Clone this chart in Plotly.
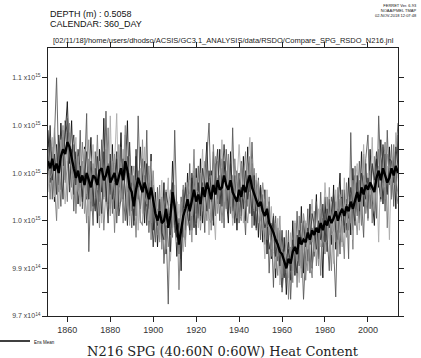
import plotly.graph_objects as go

# Years (annual values)
years = list(range(1851, 2015))

# Values in units of 1e13 J
ens_mean = [
    103.5, 103.2, 103.6, 103.1, 103.4, 103.0, 103.7, 104.0, 103.8, 104.3,
    104.1, 103.6, 103.2, 102.8, 103.1, 102.6, 102.9, 102.5, 103.0, 102.7,
    102.4, 102.9, 102.8, 102.5, 103.1, 103.2, 102.7, 102.9, 103.3, 102.6,
    102.8, 103.0, 102.5, 102.9, 103.2, 102.7, 103.5, 103.1, 102.4, 102.2,
    101.6, 102.3, 102.8, 102.5, 102.2, 102.6, 102.3, 101.9, 102.4, 101.8,
    101.3, 101.0, 101.4, 100.9, 101.0, 101.5, 100.7, 101.2, 102.2, 101.6,
    100.8, 100.0, 100.6, 101.2, 101.5, 101.9, 101.4, 101.9, 102.3, 101.8,
    102.1, 101.7, 102.4, 102.0, 102.6, 102.3, 101.9, 102.5, 102.1, 102.7,
    102.3, 102.4, 102.9, 102.5, 102.3, 102.7, 102.2, 102.0, 101.8, 102.3,
    102.0, 102.5, 102.2, 102.6, 102.9, 102.4, 102.1, 101.9, 101.6, 101.8,
    101.4, 101.2, 101.5, 100.9, 100.7, 100.5, 100.2, 100.0, 99.7, 99.6,
    99.3, 99.0, 99.4, 99.2, 99.7, 99.9, 99.6, 100.3, 100.0, 100.2,
    100.1, 100.5, 100.2, 100.6, 100.4, 100.7, 100.5, 100.9, 100.6, 101.0,
    100.8, 101.2, 100.9, 101.1, 101.4, 101.0, 101.3, 101.5, 101.2, 101.6,
    101.4, 101.8, 101.5, 101.9, 102.2, 101.8, 102.4, 102.1, 102.5, 102.3,
    102.6, 102.4, 102.2, 102.8, 103.1, 102.7, 103.2, 102.9, 102.6, 102.8,
    103.2, 102.9, 103.3, 103.0,
]

member_a = [
    104.8, 102.6, 103.9, 101.8, 104.2, 102.5, 105.1, 103.3, 104.6, 106.0,
    103.4, 105.2, 102.1, 103.9, 101.7, 103.3, 102.0, 104.1, 101.9, 102.8,
    104.5, 101.6, 103.2, 100.9, 104.0, 102.2, 105.3, 101.8, 103.4, 102.1,
    104.2, 101.5, 103.6, 102.4, 104.7, 101.9, 103.0, 105.2, 101.2, 103.3,
    100.8, 103.7, 101.9, 104.1, 102.5, 100.9, 103.4, 101.5, 103.8, 100.6,
    102.2, 99.9, 101.8, 100.2, 102.6, 99.6, 101.3, 100.4, 103.5, 101.2,
    99.5, 101.1, 98.9, 102.3, 100.6, 103.0, 101.0, 102.8, 100.7, 103.2,
    101.1, 103.6, 100.9, 102.7, 104.3, 101.5, 103.1, 100.8, 103.4, 101.9,
    104.0, 101.6, 103.5, 102.0, 100.9, 103.9, 101.4, 102.9, 100.6, 103.0,
    101.2, 103.7, 101.0, 104.1, 102.2, 103.4, 100.8, 102.7, 100.3, 102.4,
    100.1, 102.3, 99.6, 101.8, 99.4, 101.1, 98.6, 100.7, 99.0, 98.2,
    100.3, 97.9, 99.8, 98.5, 101.0, 98.7, 100.4, 99.1, 101.6, 98.8,
    100.9, 99.3, 101.7, 99.0, 100.2, 102.1, 99.4, 101.3, 98.6, 102.0,
    99.7, 101.9, 100.0, 102.5, 99.8, 101.4, 103.0, 100.1, 102.3, 100.6,
    102.8, 100.4, 103.2, 101.0, 102.6, 100.9, 103.9, 101.6, 103.4, 101.1,
    104.0, 101.9, 100.8, 103.6, 102.4, 104.4, 101.7, 103.8, 102.2, 104.1,
    102.0, 103.7, 101.5, 104.6,
]

member_b = [
    102.9, 104.4, 101.9, 104.7, 107.0, 103.2, 101.6, 104.5, 102.7, 105.3,
    102.5, 104.0, 101.4, 103.6, 102.2, 104.8, 101.5, 103.0, 105.5, 99.7,
    102.6, 100.8, 103.9, 102.3, 101.2, 104.4, 102.0, 105.6, 101.7, 103.5,
    101.3, 103.8, 100.9, 102.6, 104.1, 102.2, 101.0, 103.7, 102.5, 100.7,
    102.9, 101.2, 105.4, 102.3, 103.6, 101.4, 104.8, 100.5, 102.7, 101.6,
    100.1, 102.4, 100.6, 101.9, 99.2, 100.8, 97.5, 101.7, 100.3, 104.8,
    101.4, 99.6, 102.0, 100.3, 102.6, 101.0, 103.4, 100.6, 102.9, 101.3,
    103.3, 101.0, 102.6, 100.5, 103.7, 105.1, 101.8, 103.9, 101.2, 102.8,
    101.0, 103.2, 100.7, 104.0, 102.4, 101.3, 104.9, 101.6, 103.1, 100.9,
    103.5, 101.8, 100.4, 102.9, 101.3, 104.3, 101.9, 100.6, 102.8, 100.2,
    102.1, 100.0, 101.6, 98.8, 100.9, 98.2, 101.2, 99.3, 100.5, 98.0,
    99.1, 98.4, 100.6, 97.7, 99.9, 98.9, 101.4, 99.2, 100.3, 97.7,
    99.6, 101.5, 98.8, 100.7, 99.5, 101.8, 100.0, 102.2, 99.9, 101.3,
    100.4, 98.9, 102.0, 100.2, 97.8, 101.5, 99.6, 102.3, 100.8, 101.9,
    99.4, 104.7, 100.6, 102.9, 101.2, 103.5, 102.0, 100.3, 103.6, 104.6,
    101.5, 103.3, 102.6, 101.1, 105.4, 102.8, 103.9, 101.4, 104.8, 102.5,
    104.2, 101.6, 103.8, 105.1,
]

member_c = [
    103.8, 101.9, 104.1, 102.6, 101.0, 103.7, 102.3, 104.8, 103.1, 101.8,
    104.7, 102.4, 104.2, 101.3, 102.9, 101.6, 104.3, 102.8, 100.9, 103.6,
    101.4, 103.1, 102.0, 104.6, 101.8, 103.0, 100.6, 102.4, 104.9, 101.5,
    103.2, 100.5, 102.9, 101.7, 103.4, 100.9, 104.6, 102.2, 103.0, 101.4,
    102.4, 100.3, 103.1, 101.0, 100.8, 102.9, 101.6, 103.3, 100.2, 102.5,
    101.7, 100.4, 102.5, 99.8, 101.6, 102.3, 99.9, 100.7, 101.9, 100.5,
    101.8, 98.1, 101.3, 102.5, 100.2, 102.1, 100.4, 101.5, 104.0, 100.9,
    101.9, 103.0, 101.4, 102.2, 101.0, 102.8, 100.6, 104.2, 102.4, 101.7,
    102.9, 100.9, 102.3, 101.5, 103.8, 102.0, 101.1, 103.6, 102.2, 101.4,
    101.0, 102.8, 103.9, 101.6, 103.7, 100.7, 103.2, 101.4, 102.5, 101.1,
    100.6, 101.9, 100.2, 102.0, 99.5, 101.3, 99.8, 98.7, 100.6, 99.2,
    98.9, 100.6, 97.7, 99.8, 98.4, 100.9, 98.2, 101.2, 99.0, 100.8,
    98.5, 100.2, 99.4, 98.6, 101.4, 99.1, 100.8, 98.7, 101.1, 99.6,
    102.0, 100.3, 98.9, 101.7, 100.1, 102.4, 100.5, 101.0, 99.4, 102.6,
    100.6, 102.1, 99.8, 103.3, 101.5, 102.7, 100.8, 103.8, 101.3, 102.2,
    103.1, 100.9, 103.7, 102.3, 104.0, 101.8, 102.9, 104.3, 100.7, 103.2,
    101.9, 104.2, 102.4, 101.7,
]

member_d = [
    102.2, 103.6, 104.5, 102.0, 103.3, 101.5, 104.4, 102.9, 101.7, 103.5,
    102.8, 101.9, 103.4, 104.5, 102.3, 101.7, 102.6, 104.0, 102.1, 101.2,
    103.0, 104.2, 101.5, 102.8, 103.5, 100.9, 102.7, 103.8, 101.4, 105.4,
    102.0, 103.4, 105.5, 101.6, 102.5, 104.0, 101.8, 103.0, 100.8, 102.9,
    101.5, 102.7, 100.6, 103.2, 101.3, 104.1, 102.0, 101.0, 103.5, 102.2,
    100.9, 101.8, 100.2, 102.7, 100.5, 101.4, 102.8, 99.3, 101.0, 102.5,
    100.1, 101.7, 100.4, 99.7, 101.9, 100.8, 102.7, 101.2, 101.8, 102.8,
    100.7, 102.2, 104.0, 101.3, 102.6, 100.4, 102.9, 101.6, 100.2, 103.5,
    102.0, 104.4, 101.8, 103.1, 101.9, 102.8, 100.8, 101.7, 102.6, 104.2,
    102.6, 100.9, 102.4, 103.2, 104.5, 102.0, 101.5, 103.0, 100.9, 101.6,
    101.0, 99.4, 102.3, 100.4, 101.6, 99.7, 99.0, 101.1, 98.3, 99.8,
    99.4, 99.6, 98.6, 100.5, 99.0, 101.0, 99.5, 98.4, 100.9, 99.7,
    101.0, 99.8, 100.6, 101.9, 99.7, 100.3, 101.5, 99.9, 100.4, 102.6,
    101.1, 100.0, 101.8, 99.2, 102.3, 100.6, 101.6, 99.9, 102.8, 100.9,
    102.0, 101.0, 100.2, 102.5, 103.4, 100.6, 102.3, 104.2, 101.8, 103.0,
    102.1, 104.5, 101.6, 102.9, 100.1, 103.5, 104.1, 102.4, 103.3, 100.2,
    103.6, 102.5, 104.7, 102.8,
]

member_e = [
    103.1, 105.0, 102.7, 103.8, 102.1, 104.6, 103.4, 101.9, 105.2, 104.7,
    102.2, 103.9, 104.6, 102.5, 104.0, 103.1, 101.8, 102.7, 103.9, 101.9,
    103.5, 102.2, 101.4, 103.7, 102.6, 101.3, 103.9, 102.1, 100.9, 103.8,
    101.9, 102.6, 103.9, 101.2, 102.0, 103.6, 102.4, 100.8, 104.3, 102.0,
    101.0, 104.0, 102.2, 101.5, 102.8, 103.5, 100.8, 102.6, 101.7, 99.9,
    101.5, 100.8, 101.9, 100.5, 100.2, 102.2, 101.6, 99.7, 102.6, 100.8,
    100.3, 100.9, 99.4, 101.5, 102.4, 101.3, 100.6, 103.0, 101.7, 100.4,
    102.6, 101.2, 103.2, 102.5, 101.4, 103.1, 102.3, 101.0, 102.9, 104.0,
    101.7, 102.6, 104.2, 102.9, 101.3, 103.4, 102.5, 100.9, 102.0, 101.8,
    102.4, 101.5, 103.1, 101.9, 102.7, 101.2, 102.9, 100.7, 101.8, 102.5,
    101.3, 100.7, 101.0, 99.8, 100.3, 101.2, 99.5, 100.2, 99.1, 100.6,
    98.6, 99.3, 100.1, 98.9, 100.2, 99.4, 98.8, 100.6, 100.1, 101.0,
    99.9, 100.7, 100.0, 101.3, 100.8, 99.8, 101.0, 100.2, 101.7, 100.1,
    101.5, 100.7, 101.3, 102.1, 100.6, 100.2, 101.9, 102.0, 100.5, 101.7,
    101.1, 102.4, 101.7, 100.8, 102.9, 101.4, 103.0, 102.5, 101.9, 102.8,
    102.3, 103.4, 102.7, 103.9, 102.6, 101.9, 104.2, 103.0, 102.1, 103.6,
    103.5, 102.6, 104.1, 103.3,
]

member_f = [
    104.1, 102.8, 103.0, 104.9, 103.6, 102.2, 103.9, 105.0, 102.6, 103.2,
    105.1, 103.0, 102.7, 101.6, 103.7, 102.4, 103.5, 101.3, 102.9, 104.4,
    101.8, 103.4, 102.5, 101.9, 100.7, 103.6, 101.9, 104.0, 102.8, 101.2,
    103.5, 102.1, 101.4, 104.2, 101.8, 102.9, 105.0, 101.6, 103.7, 102.6,
    103.3, 101.8, 102.4, 100.9, 104.4, 102.0, 101.7, 102.9, 100.9, 103.1,
    101.2, 101.5, 100.1, 102.0, 100.8, 99.8, 101.5, 102.3, 100.7, 101.9,
    101.0, 100.2, 101.8, 100.9, 99.9, 102.6, 102.1, 100.1, 103.1, 102.3,
    102.2, 100.6, 101.8, 103.5, 102.1, 101.1, 100.9, 102.3, 103.7, 101.3,
    102.5, 103.6, 101.1, 102.4, 103.5, 101.6, 102.9, 102.3, 101.1, 102.7,
    103.4, 102.0, 101.7, 100.9, 102.2, 103.6, 101.4, 102.2, 102.7, 101.0,
    102.6, 101.6, 100.8, 100.7, 99.8, 100.2, 100.9, 99.5, 101.2, 98.6,
    99.7, 98.8, 99.5, 99.9, 98.9, 100.0, 99.3, 100.3, 98.6, 101.3,
    100.6, 98.9, 100.5, 100.1, 101.0, 100.5, 99.1, 101.5, 100.2, 100.0,
    100.2, 102.4, 100.4, 100.6, 101.8, 99.5, 102.1, 101.2, 101.6, 100.3,
    101.7, 100.9, 102.7, 101.5, 100.4, 102.2, 101.2, 102.9, 102.6, 101.0,
    102.9, 102.2, 101.4, 102.6, 103.3, 102.0, 102.6, 101.9, 103.8, 102.9,
    102.5, 103.9, 102.8, 102.1,
]

members = [member_a, member_b, member_c, member_d, member_e, member_f]
member_colors = ["#111111", "#5a5a5a", "#7a7a7a", "#ababab", "#333333", "#8c8c8c"]

x_ticks = [1860, 1880, 1900, 1920, 1940, 1960, 1980, 2000]
y_tick_units = list(range(97, 108))  # in 1e13 J
y_tick_labels = {
    97: "9.7 x10<sup>14</sup>",
    99: "9.9 x10<sup>14</sup>",
    101: "1.0 x10<sup>15</sup>",
    103: "1.0 x10<sup>15</sup>",
    105: "1.0 x10<sup>15</sup>",
    107: "1.1 x10<sup>15</sup>",
}
SCALE = 1e13

fig = go.Figure()
for m, c in zip(members, member_colors):
    fig.add_trace(go.Scatter(x=years, y=[v * SCALE for v in m], mode="lines",
                             line=dict(color=c, width=0.9), showlegend=False))
fig.add_trace(go.Scatter(x=years, y=[v * SCALE for v in ens_mean], mode="lines",
                         line=dict(color="#000000", width=2.4), name="Ens Mean",
                         showlegend=False))

fig.update_layout(
    width=421, height=358,
    margin=dict(l=48, r=23, t=48, b=42),
    paper_bgcolor="white", plot_bgcolor="white",
    font=dict(family="Liberation Sans", color="#222222"),
)
fig.update_xaxes(
    range=[1851, 2014], tickvals=x_ticks, ticktext=[str(t) for t in x_ticks],
    ticks="outside", ticklen=5, tickwidth=1, tickcolor="#222",
    showline=True, linecolor="#222", linewidth=1, mirror="ticks",
    showgrid=False, zeroline=False,
    tickfont=dict(size=9, family="Liberation Sans", color="#333"),
)
fig.update_yaxes(
    range=[97.0 * SCALE, 108.25 * SCALE],
    tickvals=[v * SCALE for v in y_tick_units],
    ticktext=[y_tick_labels.get(v, "") for v in y_tick_units],
    ticks="outside", ticklen=5, tickwidth=1, tickcolor="#222",
    showline=True, linecolor="#222", linewidth=1, mirror="ticks",
    showgrid=False, zeroline=False,
    tickfont=dict(size=7, family="Liberation Sans", color="#444"),
)

ann = [
    dict(text="DEPTH (m) : 0.5058", x=48, y=21, anchor="left", size=9),
    dict(text="CALENDAR: 360_DAY", x=48, y=31, anchor="left", size=9),
]
for a in ann:
    fig.add_annotation(text=a["text"], xref="paper", yref="paper",
                       x=(a["x"] - 48) / 350, y=1 + (48 - a["y"]) / 268,
                       xanchor=a["anchor"], yanchor="bottom", showarrow=False,
                       font=dict(size=a["size"], family="Liberation Sans", color="#111"))

fig.add_annotation(
    text="[02/11/18]/home/users/dhodso/ACSIS/GC3.1_ANALYSIS/data/RSDO/Compare_SPG_RSDO_N216.jnl",
    xref="paper", yref="paper", x=0.5, y=1 + 1 / 268, xanchor="center", yanchor="bottom",
    showarrow=False, font=dict(size=7.5, family="Liberation Sans", color="#222"))

fig.add_annotation(
    text="FERRET Ver. 6.93<br>NOAA/PMEL TMAP<br>02-NOV-2018 12:07:48",
    xref="paper", yref="paper", x=1 + 21 / 350, y=1 + 47 / 268, xanchor="right", yanchor="top",
    align="right", showarrow=False, font=dict(size=4, family="Liberation Sans", color="#111"))

fig.add_annotation(
    text="N216 SPG (40:60N 0:60W) Heat Content",
    xref="paper", yref="paper", x=(223 - 48) / 350, y=-(351 - 316) / 268,
    xanchor="center", yanchor="middle", showarrow=False,
    font=dict(size=13, family="DejaVu Serif", color="#222"))

# legend sample
fig.add_shape(type="line", xref="paper", yref="paper",
              x0=-48 / 350, x1=-18 / 350, y0=-(341 - 316) / 268, y1=-(341 - 316) / 268,
              line=dict(color="black", width=1.5))
fig.add_annotation(text="Ens Mean", xref="paper", yref="paper",
                   x=-16 / 350, y=-(342 - 316) / 268, xanchor="left", yanchor="middle",
                   showarrow=False, font=dict(size=4.5, family="Liberation Sans", color="#111"))

fig.write_html("out.html", config={"displayModeBar": False},
               post_script="document.body.style.margin='0';document.body.style.overflow='hidden';")
